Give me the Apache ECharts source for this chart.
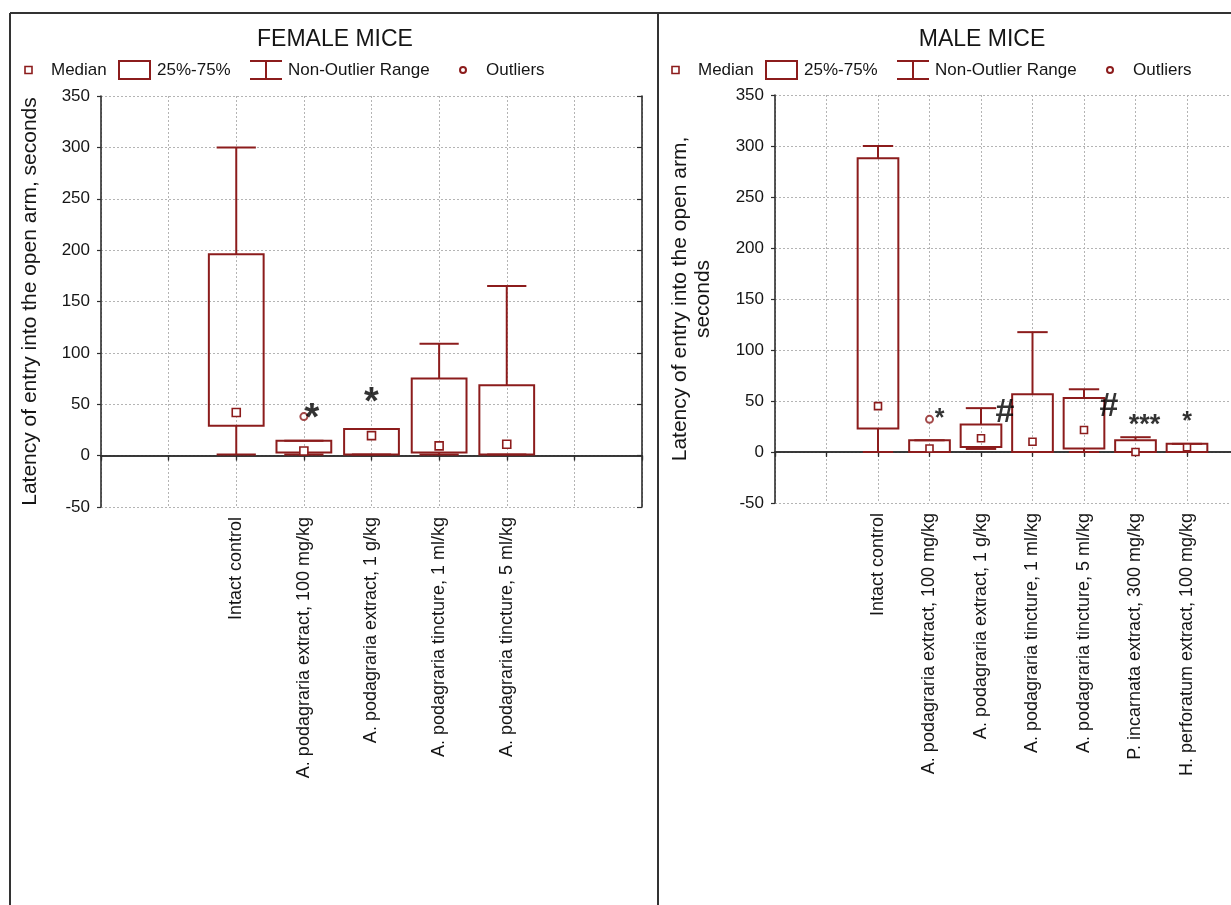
<!DOCTYPE html>
<html>
<head>
<meta charset="utf-8">
<script src="https://cdn.jsdelivr.net/npm/echarts@6/dist/echarts.min.js"></script>
<style>
html,body{margin:0;padding:0;background:#fff;}
#chart{width:1231px;height:905px;}
</style>
</head>
<body>
<div id="chart"></div>
<script>
// ---------- DATA ----------
const femaleCategories = [
  'Intact control',
  'A. podagraria extract, 100 mg/kg',
  'A. podagraria extract, 1 g/kg',
  'A. podagraria tincture, 1 ml/kg',
  'A. podagraria tincture, 5 ml/kg'
];
const femaleMin    = [1, 1, 1, 1, 1];
const femaleQ1     = [29, 3, 1, 3, 1];
const femaleMedian = [42, 4.5, 19.5, 9.5, 11];
const femaleQ3     = [196, 14.5, 26, 75, 68.5];
const femaleMax    = [300, 14.5, 26, 109, 165];
const femaleOutlierCat = [1];
const femaleOutlierVal = [38];
const femaleMarks    = ['', '*', '*', '', ''];
const femaleMarkVals = [null, 45, 60, null, null];

const maleCategories = [
  'Intact control',
  'A. podagraria extract, 100 mg/kg',
  'A. podagraria extract, 1 g/kg',
  'A. podagraria tincture, 1 ml/kg',
  'A. podagraria tincture, 5 ml/kg',
  'P. incarnata extract, 300 mg/kg',
  'H. perforatum extract, 100 mg/kg'
];
const maleMin    = [0, 0, 3, 0, 0, 0, 0];
const maleQ1     = [23, 0, 5, 0, 3.5, 0, 0];
const maleMedian = [45, 3.5, 13.5, 10, 21.5, 0, 4.5];
const maleQ3     = [288, 11.5, 27, 56.5, 53, 11.5, 8];
const maleMax    = [300, 11.5, 43, 117.5, 61.5, 14.5, 8];
const maleOutlierCat = [1];
const maleOutlierVal = [32];
const maleMarks    = ['', '*', '#', '', '#', '***', '*'];
const maleMarkVals = [null, 38, 39, null, 44, 33, 35];

const yTicks = { min: -50, max: 350, interval: 50 };
const titles = ['FEMALE MICE', 'MALE MICE'];
const legendLabels = ['Median', '25%-75%', 'Non-Outlier Range', 'Outliers'];
const yNames = ['Latency of entry into the open arm, seconds', 'Latency of entry into the open arm,\nseconds'];

// ---------- STYLE ----------
const RED = '#8c1c1c';
const AX = '#2e2e2e';
const TXT = '#151515';
const FONT = '"Liberation Sans", Arial, sans-serif';
const PAD = 2; // empty category slots before the first group
const femaleMarkStyle = { dx: [0, 8, 0, 0, 0], size: [0, 38, 38, 0, 0] };
const maleMarkStyle = { dx: [0, 10, 24, 0, 25, 9, 0], size: [0, 25, 34, 0, 34, 27, 25] };

function padCats(cats) {
  const a = [];
  for (let i = 0; i < PAD; i++) a.push('');
  cats.forEach(c => a.push(c));
  for (let i = 0; i < PAD; i++) a.push('');
  return a;
}

function boxData(mn, q1, md, q3, mx) {
  return mn.map((v, i) => [i + PAD, mn[i], q1[i], md[i], q3[i], mx[i]]);
}

function makeRender(boxFrac, capFrac, medSize) {
  return function (params, api) {
    const x = api.value(0);
    const pMin = api.coord([x, api.value(1)]);
    const pQ1 = api.coord([x, api.value(2)]);
    const pMed = api.coord([x, api.value(3)]);
    const pQ3 = api.coord([x, api.value(4)]);
    const pMax = api.coord([x, api.value(5)]);
    const band = api.coord([x + 1, 0])[0] - pMin[0];
    const bw = band * boxFrac, cw = band * capFrac;
    const cx = pMin[0];
    const st = { stroke: RED, fill: null, lineWidth: 2 };
    return {
      type: 'group',
      children: [
        { type: 'line', shape: { x1: cx, y1: pQ3[1], x2: cx, y2: pMax[1] }, style: st },
        { type: 'line', shape: { x1: cx, y1: pQ1[1], x2: cx, y2: pMin[1] }, style: st },
        { type: 'line', shape: { x1: cx - cw / 2, y1: pMax[1], x2: cx + cw / 2, y2: pMax[1] }, style: st },
        { type: 'line', shape: { x1: cx - cw / 2, y1: pMin[1], x2: cx + cw / 2, y2: pMin[1] }, style: st },
        { type: 'rect', shape: { x: cx - bw / 2, y: pQ3[1], width: bw, height: pQ1[1] - pQ3[1] }, style: st },
        { type: 'rect', shape: { x: cx - medSize / 2, y: pMed[1] - medSize / 2, width: medSize, height: medSize },
          style: { stroke: RED, fill: '#fff', lineWidth: 1.6 } }
      ]
    };
  };
}

function xAxes(cats, gridIndex) {
  const data = padCats(cats);
  return [{
    gridIndex, type: 'category', data, boundaryGap: false, position: 'bottom',
    axisLine: { show: true, lineStyle: { color: AX, width: 1.6 } },
    axisTick: { show: true, interval: 0, length: 4, lineStyle: { color: AX, width: 1.2 } },
    axisLabel: { interval: 0, rotate: 90, fontSize: 18, color: TXT, margin: 10, fontFamily: FONT },
    splitLine: { show: true, interval: 0, lineStyle: { type: [2, 2], color: '#b4b4b4', width: 1 } }
  }, {
    gridIndex, type: 'category', data, boundaryGap: false, position: 'top',
    axisLine: { show: true, lineStyle: { color: AX, width: 1.6 } },
    axisTick: { show: true, inside: true, interval: 0, length: 5, lineStyle: { color: AX, width: 1.2 } },
    axisLabel: { show: false }, splitLine: { show: false }
  }];
}

function yAxes(gridIndex, name, nameGap) {
  return [{
    gridIndex, type: 'value', min: yTicks.min, max: yTicks.max, interval: yTicks.interval, position: 'left',
    name, nameLocation: 'middle', nameGap, nameRotate: 90,
    nameTextStyle: { fontSize: 21, color: TXT, fontFamily: FONT, lineHeight: 23 },
    axisLine: { show: true, lineStyle: { color: AX, width: 1.6 } },
    axisTick: { show: true, length: 4, lineStyle: { color: AX, width: 1.2 } },
    axisLabel: { fontSize: 17, color: TXT, margin: 11, fontFamily: FONT },
    splitLine: { show: true, lineStyle: { type: [2, 2], color: '#b4b4b4', width: 1 } }
  }, {
    gridIndex, type: 'value', min: yTicks.min, max: yTicks.max, interval: yTicks.interval, position: 'right',
    axisLine: { show: true, lineStyle: { color: AX, width: 1.6 } },
    axisTick: { show: true, inside: true, length: 5, lineStyle: { color: AX, width: 1.2 } },
    axisLabel: { show: false }, splitLine: { show: false }
  }];
}

function markData(marks, vals, style) {
  const out = [];
  marks.forEach((m, i) => {
    if (!m) return;
    const fs = style.size[i];
    out.push({
      value: [i + PAD, vals[i]],
      label: {
        formatter: m, fontSize: fs,
        offset: [style.dx[i], m === '#' ? 0 : Math.round(fs * 0.25)]
      }
    });
  });
  return out;
}

function outlierData(cats, vals) {
  return cats.map((c, i) => [c + PAD, vals[i]]);
}

// ---------- LEGEND / FRAME GRAPHICS ----------
function legend(dx) {
  const y = 70;
  const t = (x, s) => ({ type: 'text', x: x + dx, y, style: { text: s, fill: TXT, font: '17px ' + FONT, textVerticalAlign: 'middle' } });
  const ls = { stroke: RED, lineWidth: 2, fill: null };
  return [
    { type: 'rect', shape: { x: 25 + dx, y: 66.5, width: 7, height: 7 }, style: { stroke: RED, lineWidth: 1.6, fill: '#fff' } },
    t(51, legendLabels[0]),
    { type: 'rect', shape: { x: 119 + dx, y: 61, width: 31, height: 18 }, style: ls },
    t(157, legendLabels[1]),
    { type: 'line', shape: { x1: 250 + dx, y1: 61, x2: 282 + dx, y2: 61 }, style: ls },
    { type: 'line', shape: { x1: 266 + dx, y1: 61, x2: 266 + dx, y2: 79 }, style: ls },
    { type: 'line', shape: { x1: 250 + dx, y1: 79, x2: 282 + dx, y2: 79 }, style: ls },
    t(288, legendLabels[2]),
    { type: 'circle', shape: { cx: 463 + dx, cy: 70, r: 3 }, style: { stroke: RED, lineWidth: 2, fill: '#fff' } },
    t(486, legendLabels[3])
  ];
}

const frame = { stroke: '#333', lineWidth: 2 };
const graphics = [
  { type: 'line', shape: { x1: 10, y1: 13, x2: 1231, y2: 13 }, style: frame },
  { type: 'line', shape: { x1: 10, y1: 13, x2: 10, y2: 905 }, style: frame },
  { type: 'line', shape: { x1: 658, y1: 13, x2: 658, y2: 905 }, style: frame },
  { type: 'text', x: 335, y: 40, style: { text: titles[0], fill: TXT, font: '23px ' + FONT, textAlign: 'center', textVerticalAlign: 'middle' } },
  { type: 'text', x: 982, y: 40, style: { text: titles[1], fill: TXT, font: '23px ' + FONT, textAlign: 'center', textVerticalAlign: 'middle' } }
].concat(legend(0), legend(647));

// ---------- OPTION ----------
const fx = xAxes(femaleCategories, 0);
const mx = xAxes(maleCategories, 1);
const fy = yAxes(0, yNames[0], 59);
const my = yAxes(1, yNames[1], 60);

const option = {
  animation: false,
  backgroundColor: '#fff',
  textStyle: { fontFamily: FONT },
  grid: [
    { left: 101, top: 96, width: 541, height: 411, outerBoundsMode: 'none', containLabel: false },
    { left: 775, top: 95, width: 515, height: 408, outerBoundsMode: 'none', containLabel: false }
  ],
  xAxis: [fx[0], mx[0], fx[1], mx[1]],
  yAxis: [fy[0], my[0], fy[1], my[1]],
  graphic: graphics,
  series: [
    { type: 'custom', xAxisIndex: 0, yAxisIndex: 0, renderItem: makeRender(0.81, 0.58, 8),
      data: boxData(femaleMin, femaleQ1, femaleMedian, femaleQ3, femaleMax), z: 3 },
    { type: 'custom', xAxisIndex: 1, yAxisIndex: 1, renderItem: makeRender(0.79, 0.59, 7),
      data: boxData(maleMin, maleQ1, maleMedian, maleQ3, maleMax), z: 3 },
    { type: 'scatter', xAxisIndex: 0, yAxisIndex: 0, symbol: 'circle', symbolSize: 7, z: 4,
      itemStyle: { color: '#fff', borderColor: RED, borderWidth: 2 },
      data: outlierData(femaleOutlierCat, femaleOutlierVal) },
    { type: 'scatter', xAxisIndex: 1, yAxisIndex: 1, symbol: 'circle', symbolSize: 7, z: 4,
      itemStyle: { color: '#fff', borderColor: RED, borderWidth: 2 },
      data: outlierData(maleOutlierCat, maleOutlierVal) },
    { type: 'scatter', xAxisIndex: 0, yAxisIndex: 0, symbolSize: 0, z: 5, silent: true,
      label: { show: true, position: 'inside', color: '#000', fontWeight: 'bold', fontFamily: FONT, textBorderWidth: 0 },
      data: markData(femaleMarks, femaleMarkVals, femaleMarkStyle) },
    { type: 'scatter', xAxisIndex: 1, yAxisIndex: 1, symbolSize: 0, z: 5, silent: true,
      label: { show: true, position: 'inside', color: '#000', fontWeight: 'bold', fontFamily: FONT, textBorderWidth: 0 },
      data: markData(maleMarks, maleMarkVals, maleMarkStyle) }
  ]
};

const chart = echarts.init(document.getElementById('chart'), null, { renderer: 'canvas' });
chart.setOption(option);
</script>
</body>
</html>
